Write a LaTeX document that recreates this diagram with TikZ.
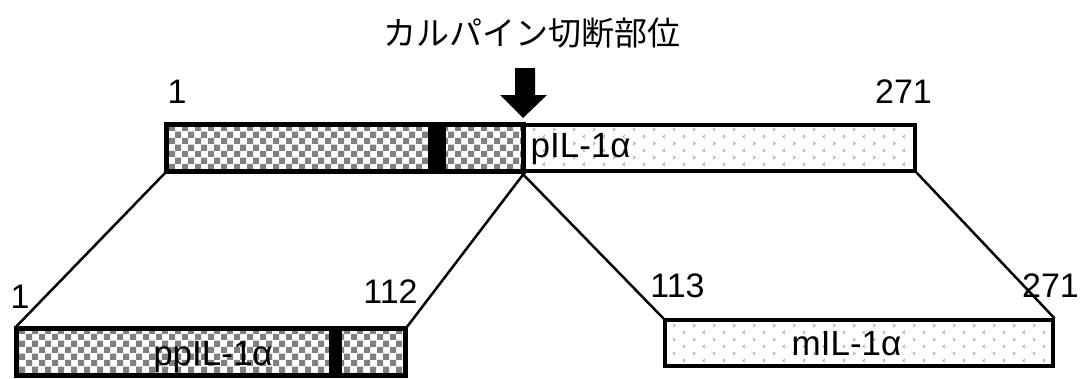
\documentclass[tikz,border=0pt]{standalone}
\usepackage{fontspec}
\setmainfont{Liberation Sans}
\newfontfamily\cjk{Noto Sans CJK JP}
\usetikzlibrary{patterns}
\pgfdeclarepatternformonly{checker}{\pgfpointorigin}{\pgfqpoint{13pt}{13pt}}{\pgfqpoint{13pt}{13pt}}{%
  \pgfpathrectangle{\pgfpointorigin}{\pgfqpoint{6.5pt}{6.5pt}}%
  \pgfpathrectangle{\pgfqpoint{6.5pt}{6.5pt}}{\pgfqpoint{6.5pt}{6.5pt}}%
  \pgfusepath{fill}}
\pgfdeclarepatternformonly{chevrons}{\pgfqpoint{-1pt}{-1pt}}{\pgfqpoint{21pt}{15pt}}{\pgfqpoint{20pt}{14pt}}{%
  \pgfsetlinewidth{0.7pt}%
  \pgfpathmoveto{\pgfqpoint{5pt}{5pt}}\pgfpathlineto{\pgfqpoint{3pt}{3.5pt}}\pgfpathlineto{\pgfqpoint{5pt}{2pt}}%
  \pgfpathmoveto{\pgfqpoint{13pt}{12pt}}\pgfpathlineto{\pgfqpoint{15pt}{10.5pt}}\pgfpathlineto{\pgfqpoint{13pt}{9pt}}%
  \pgfusepath{stroke}}
\begin{document}
\begin{tikzpicture}[x=1pt,y=-1pt,
  bar/.style={draw=black,line width=3.2pt,inner sep=0pt,minimum height=46pt},
  chk/.style={bar,pattern=checker,pattern color=black!50},
  dots/.style={bar,pattern=chevrons,pattern color=black!40},
  stripe/.style={fill=black,inner sep=0pt,minimum height=46pt},
  num/.style={font=\fontsize{34}{40}\selectfont,inner sep=0pt,anchor=base},
  lbl/.style={font=\fontsize{35}{40}\selectfont,inner sep=0pt,anchor=base},
  link/.style={line width=2.5pt}]
\useasboundingbox (0,0) rectangle (1089,378);
% title
\node[font=\cjk\fontsize{33}{38}\selectfont,inner sep=0pt] (title) at (532,33) {カルパイン切断部位};
% top bar
\node[chk,minimum width=356pt] (topL) at (345,148) {};
\node[stripe,minimum width=18pt] (topS) at (436.5,148) {};
\node[dots,minimum width=392pt] (topR) at (719,148) {};
\draw[line width=3.2pt] (topL.north west) rectangle (topL.south east);
\node[lbl,anchor=base west] (pIL) at (530.5,157) {pIL-1α};
% arrow
\fill (515,68) -- (535,68) -- (535,95) -- (547,95) -- (523,118) -- (500,95) -- (515,95) -- cycle;
\coordinate (cut) at (523,118);
% numbers top
\node[num] (n1) at (177,103) {1};
\node[num] (n271) at (903.5,103) {271};
% bottom left bar
\node[chk,minimum width=388pt] (botL) at (211,352) {};
\node[stripe,minimum width=13pt] (botS) at (335.5,352) {};
\draw[line width=3.2pt] (botL.north west) rectangle (botL.south east);
\node[lbl] (ppIL) at (213,365) {ppIL-1α};
% bottom right bar
\node[dots,minimum width=388pt] (botR) at (859,343) {};
\node[lbl] (mIL) at (846.5,355) {mIL-1α};
% numbers bottom
\node[num] (b1) at (20,308) {1};
\node[num] (b112) at (390.5,303) {112};
\node[num] (b113) at (677.5,297) {113};
\node[num] (b271) at (1050.5,297) {271};
% connectors
\draw[link] (topL.south west) -- (botL.north west);
\draw[link] (topL.south east) -- (botL.north east);
\draw[link] (topR.south west) -- (botR.north west);
\draw[link] (topR.south east) -- (botR.north east);
\end{tikzpicture}
\end{document}
